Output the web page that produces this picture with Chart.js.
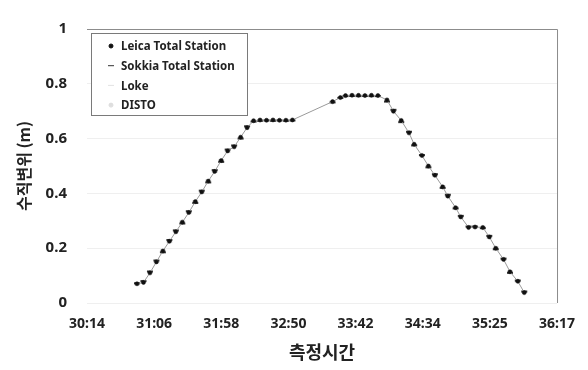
<!DOCTYPE html>
<html>
<head>
<meta charset="utf-8">
<script src="https://cdn.jsdelivr.net/npm/chart.js@4/dist/chart.umd.min.js"></script>
<style>
  body { margin: 0; background: #fff; }
  canvas { display: block; }
</style>
</head>
<body>
<canvas id="chart" width="588" height="370"></canvas>
<script>
// measurement times (mm:ss), shared by all four instruments
const times = ['30:53','30:58','31:03','31:08','31:13','31:18','31:23','31:28','31:33','31:38',
  '31:43','31:48','31:53','31:58','32:03','32:08','32:13','32:18','32:23',
  '32:28','32:33','32:38','32:43','32:48','32:53',
  '33:24','33:30',
  '33:34','33:39','33:44','33:49','33:54','33:59',
  '34:06','34:11','34:17','34:23','34:27','34:33','34:38','34:43','34:49','34:53','34:59',
  '35:03','35:09','35:14','35:20','35:25','35:30','35:36','35:41','35:47','35:52'];

// vertical displacement (m)
const leicaValues = [0.07,0.075,0.11,0.15,0.19,0.225,0.26,0.295,0.33,0.37,0.405,0.445,0.48,0.52,0.555,0.57,0.605,0.64,0.665,
  0.668,0.667,0.668,0.667,0.667,0.668,
  0.735,0.75,
  0.757,0.758,0.758,0.757,0.758,0.757,
  0.741,0.70,0.666,0.621,0.579,0.538,0.50,0.466,0.424,0.39,0.348,0.314,0.276,0.277,0.276,0.241,0.20,0.159,0.114,0.079,0.038];
const sokkiaValues = [0.072,0.08,0.115,0.155,0.185,0.23,0.265,0.29,0.335,0.365,0.41,0.44,0.485,0.515,0.56,0.575,0.6,0.645,0.662,
  0.665,0.666,0.665,0.666,0.665,0.666,
  0.732,0.748,
  0.755,0.756,0.755,0.756,0.755,0.755,
  0.735,0.705,0.66,0.625,0.575,0.54,0.495,0.47,0.42,0.395,0.345,0.318,0.279,0.279,0.273,0.245,0.196,0.162,0.11,0.082,0.042];
const lokeValues = [0.068,0.078,0.112,0.148,0.192,0.222,0.262,0.298,0.328,0.372,0.402,0.448,0.478,0.522,0.552,0.572,0.602,0.642,0.663,
  0.667,0.668,0.666,0.668,0.667,0.667,
  0.737,0.752,
  0.758,0.757,0.759,0.756,0.758,0.756,
  0.738,0.702,0.663,0.623,0.577,0.536,0.502,0.463,0.426,0.388,0.35,0.312,0.278,0.275,0.278,0.238,0.203,0.157,0.116,0.077,0.04];
const distoValues = [0.071,0.077,0.108,0.152,0.188,0.227,0.258,0.297,0.332,0.368,0.407,0.443,0.482,0.518,0.557,0.568,0.607,0.638,0.667,
  0.666,0.667,0.669,0.666,0.668,0.668,
  0.733,0.749,
  0.756,0.759,0.757,0.757,0.759,0.758,
  0.743,0.698,0.668,0.619,0.581,0.54,0.498,0.468,0.422,0.392,0.346,0.316,0.274,0.279,0.274,0.243,0.198,0.161,0.112,0.081,0.036];

const xTickLabels = ['30:14','31:06','31:58','32:50','33:42','34:34','35:25','36:17'];
const yTicks = [0, 0.2, 0.4, 0.6, 0.8, 1];

// x axis is in seconds; Excel-style date axis start & major unit
const X_MIN = 1814.4;
const X_STEP = 51.84;

function toSec(s) {
    const [m, sec] = s.split(':').map(Number);
    return m * 60 + sec;
}
function pts(values) {
    return times.map((t, i) => ({ x: toSec(t), y: values[i] }));
}

const FONT = "'Noto Sans', 'Noto Sans CJK KR', sans-serif";
const KFONT = "'Noto Sans CJK KR', 'Noto Sans', sans-serif";

// top + right frame of the plot area
const framePlugin = {
    id: 'frame',
    beforeDatasetsDraw(chart) {
        const { ctx, chartArea: a } = chart;
        ctx.save();
        ctx.strokeStyle = '#8c8c8c';
        ctx.lineWidth = 1;
        ctx.beginPath();
        ctx.moveTo(a.left, a.top + 0.5);
        ctx.lineTo(a.right + 0.5, a.top + 0.5);
        ctx.lineTo(a.right + 0.5, a.bottom);
        ctx.stroke();
        ctx.restore();
    }
};

// boxed legend in the upper-left corner of the plot
const legendBox = {
    id: 'legendBox',
    afterDraw(chart) {
        const { ctx, chartArea: a } = chart;
        const x0 = a.left + 4, y0 = a.top + 4, w = 156, h = 82;
        ctx.save();
        ctx.fillStyle = '#fff';
        ctx.fillRect(x0, y0, w, h);
        ctx.strokeStyle = '#7a7a7a';
        ctx.lineWidth = 1;
        ctx.strokeRect(x0 + 0.5, y0 + 0.5, w, h);
        ctx.font = "bold 11.5px " + FONT;
        ctx.textBaseline = 'middle';
        chart.data.datasets.forEach((ds, i) => {
            const y = y0 + 13 + i * 19.7;
            ctx.fillStyle = ds.pointBackgroundColor;
            ctx.strokeStyle = ds.pointBorderColor;
            Chart.helpers.drawPoint(ctx, {
                pointStyle: ds.pointStyle, radius: ds.pointRadius,
                borderWidth: ds.pointBorderWidth, rotation: 0
            }, x0 + 20, y);
            ctx.fillStyle = '#222';
            ctx.fillText(ds.label, x0 + 30, y + 1);
        });
        ctx.restore();
    }
};

new Chart(document.getElementById('chart').getContext('2d'), {
    type: 'scatter',
    data: {
        datasets: [
            {
                label: 'Leica Total Station',
                data: pts(leicaValues),
                showLine: true,
                borderColor: '#9a9a9a',
                borderWidth: 1,
                pointStyle: 'circle',
                pointRadius: 2,
                pointBorderWidth: 0.5,
                pointBackgroundColor: '#111',
                pointBorderColor: '#111',
                order: 1
            },
            {
                label: 'Sokkia Total Station',
                data: pts(sokkiaValues),
                showLine: false,
                pointStyle: 'line',
                pointRadius: 3,
                pointBorderWidth: 2,
                pointBackgroundColor: '#333',
                pointBorderColor: '#333',
                order: 2
            },
            {
                label: 'Loke',
                data: pts(lokeValues),
                showLine: false,
                pointStyle: 'line',
                pointRadius: 3,
                pointBorderWidth: 2,
                pointBackgroundColor: '#e2e2e2',
                pointBorderColor: '#e2e2e2',
                order: 4
            },
            {
                label: 'DISTO',
                data: pts(distoValues),
                showLine: false,
                pointStyle: 'circle',
                pointRadius: 2,
                pointBorderWidth: 0.5,
                pointBackgroundColor: '#dedede',
                pointBorderColor: '#dedede',
                order: 3
            }
        ]
    },
    options: {
        responsive: false,
        animation: false,
        layout: { padding: { top: 13, right: 26, left: 12, bottom: 0 } },
        plugins: {
            legend: { display: false },
            tooltip: { enabled: false }
        },
        scales: {
            x: {
                type: 'linear',
                min: X_MIN,
                max: X_MIN + X_STEP * (xTickLabels.length - 1),
                afterBuildTicks: s => { s.ticks = xTickLabels.map((l, i) => ({ value: X_MIN + i * X_STEP })); },
                afterFit: s => { s.height = 67; },
                grid: { display: false, drawTicks: false },
                border: { display: false },
                ticks: {
                    padding: 13,
                    autoSkip: false,
                    maxRotation: 0,
                    color: '#222',
                    font: { family: FONT, size: 14, weight: 'bold' },
                    callback: (v, i) => xTickLabels[i]
                },
                title: {
                    display: true,
                    text: '측정시간',
                    color: '#222',
                    padding: { top: 0, bottom: 7 },
                    font: { family: KFONT, size: 18, weight: 'bold' }
                }
            },
            y: {
                min: 0,
                max: 1,
                afterBuildTicks: s => { s.ticks = yTicks.map(v => ({ value: v })); },
                afterFit: s => { s.width = 75; },
                grid: { color: '#efefef', drawTicks: false },
                border: { display: false },
                ticks: {
                    padding: 20,
                    color: '#222',
                    font: { family: FONT, size: 15, weight: 'bold' },
                    callback: v => String(v)
                },
                title: {
                    display: true,
                    text: '수직변위 (m)',
                    color: '#222',
                    padding: { top: 2, bottom: 0 },
                    font: { family: KFONT, size: 16, weight: 'bold' }
                }
            }
        }
    },
    plugins: [framePlugin, legendBox]
});
</script>
</body>
</html>
